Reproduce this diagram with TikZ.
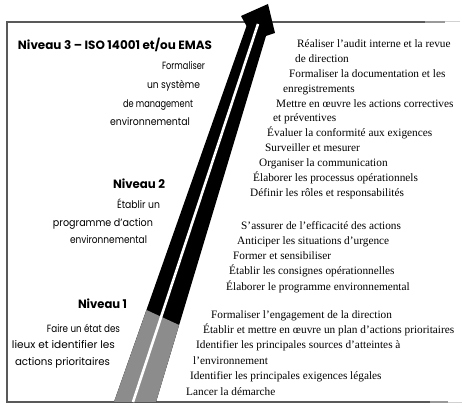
\documentclass[tikz,border=0pt]{standalone}
\usepackage{fontspec}
\usepackage{graphicx}
\setmainfont{Liberation Serif}
\newfontfamily\futfont{Poppins}
\newcommand{\fitw}[2]{\resizebox{#1}{\height}{#2}}
\begin{document}
\begin{tikzpicture}[x=1pt,y=-1pt,
  rtext/.style={anchor=base west, inner sep=0pt, font=\fontsize{11.3}{13}\selectfont},
  ltext/.style={anchor=base, inner sep=0pt, font=\futfont\fontsize{10.5}{12}\selectfont},
  hd/.style={anchor=base, inner sep=0pt, font=\futfont\bfseries\fontsize{12}{14}\selectfont},
  frame/.style={draw=black!65, line width=1.4pt}]
\useasboundingbox (0,0) rectangle (470,406);
% frame
\draw[frame] (7,22) -- (7,402);
\draw[frame] (6.3,22) -- (425,22);
\draw[draw=black!40, line width=1.2pt] (425,22) -- (445,22);
\draw[draw=black!18, line width=1pt] (445,22) -- (460,22);
\draw[frame] (6.3,402) -- (430,402);
\draw[draw=black!40, line width=1.2pt] (430,402) -- (448,402);
\draw[draw=black!18, line width=1pt] (448,402) -- (462,402);
% arrow
\coordinate (bl) at (114,402);
\coordinate (br) at (156,402);
\coordinate (lt) at (246.5,26);
\coordinate (lb) at (241,16);
\coordinate (tip) at (268,4);
\coordinate (rb) at (275,33);
\coordinate (rt) at (266,36);
\coordinate (gl) at (146.5,310);
\coordinate (gr) at (179.1,325);
\coordinate (sb) at (133,402);
\coordinate (st) at (258,24);
\fill[black] (bl) -- (lt) -- (lb) -- (tip) -- (rb) -- (rt) -- (br) -- cycle;
\fill[black!45] (bl) -- (gl) -- (gr) -- (br) -- cycle;
\draw[white, line width=2.6pt] (sb) -- (st);
% left texts
\node[hd] (h3) at (115,49.5) {\fitw{194pt}{Niveau 3 – ISO 14001 et/ou EMAS}};
\node[ltext] (l31) at (183.5,70) {\fitw{43pt}{Formaliser}};
\node[ltext] (l32) at (173.5,88.5) {\fitw{53pt}{un système}};
\node[ltext] (l33) at (158,107) {\fitw{70pt}{de management}};
\node[ltext] (l34) at (150,126) {\fitw{80pt}{environnemental}};
\node[hd] (h2) at (139,188) {\fitw{52pt}{Niveau 2}};
\node[ltext] (l21) at (138.5,208) {\fitw{43pt}{Établir un}};
\node[ltext] (l22) at (103,226) {\fitw{100pt}{programme d’action}};
\node[ltext] (l23) at (108.5,243) {\fitw{77pt}{environnemental}};
\node[hd] (h1) at (102.5,308) {\fitw{49pt}{Niveau 1}};
\node[ltext] (l11) at (83.5,332) {\fitw{73pt}{Faire un état des}};
\node[ltext] (l12) at (63.5,348) {\fitw{103pt}{lieux et identifier les}};
\node[ltext] (l13) at (62.5,365) {\fitw{95pt}{actions prioritaires}};
% right texts
\node[rtext] (r1) at (297,48) {Réaliser l'audit interne et la revue};
\node[rtext] (r2) at (295,62.8) {de direction};
\node[rtext] (r3) at (289,77.6) {Formaliser la documentation et les};
\node[rtext] (r4) at (283,92.4) {enregistrements};
\node[rtext] (r5) at (276,107.2) {Mettre en œuvre les actions correctives};
\node[rtext] (r6) at (273,122) {et préventives};
\node[rtext] (r7) at (267,136.8) {Évaluer la conformité aux exigences};
\node[rtext] (r8) at (265,151.6) {Surveiller et mesurer};
\node[rtext] (r9) at (259,166.4) {Organiser la communication};
\node[rtext] (r10) at (253,181.2) {Élaborer les processus opérationnels};
\node[rtext] (r11) at (250,196) {Définir les rôles et responsabilités};
\node[rtext] (m1) at (241,229) {S'assurer de l'efficacité des actions};
\node[rtext] (m2) at (237,244.25) {Anticiper les situations d'urgence};
\node[rtext] (m3) at (233,259.5) {Former et sensibiliser};
\node[rtext] (m4) at (229,274.75) {Établir les consignes opérationnelles};
\node[rtext] (m5) at (226,290) {Élaborer le programme environnemental};
\node[rtext] (b1) at (211,318) {Formaliser l'engagement de la direction};
\node[rtext] (b2) at (203,333.4) {Établir et mettre en œuvre un plan d'actions prioritaires};
\node[rtext] (b3) at (196,348.8) {Identifier les principales sources d'atteintes à};
\node[rtext] (b4) at (193,364.2) {l'environnement};
\node[rtext] (b5) at (190,379.6) {Identifier les principales exigences légales};
\node[rtext] (b6) at (186,395) {Lancer la démarche};
\end{tikzpicture}
\end{document}
